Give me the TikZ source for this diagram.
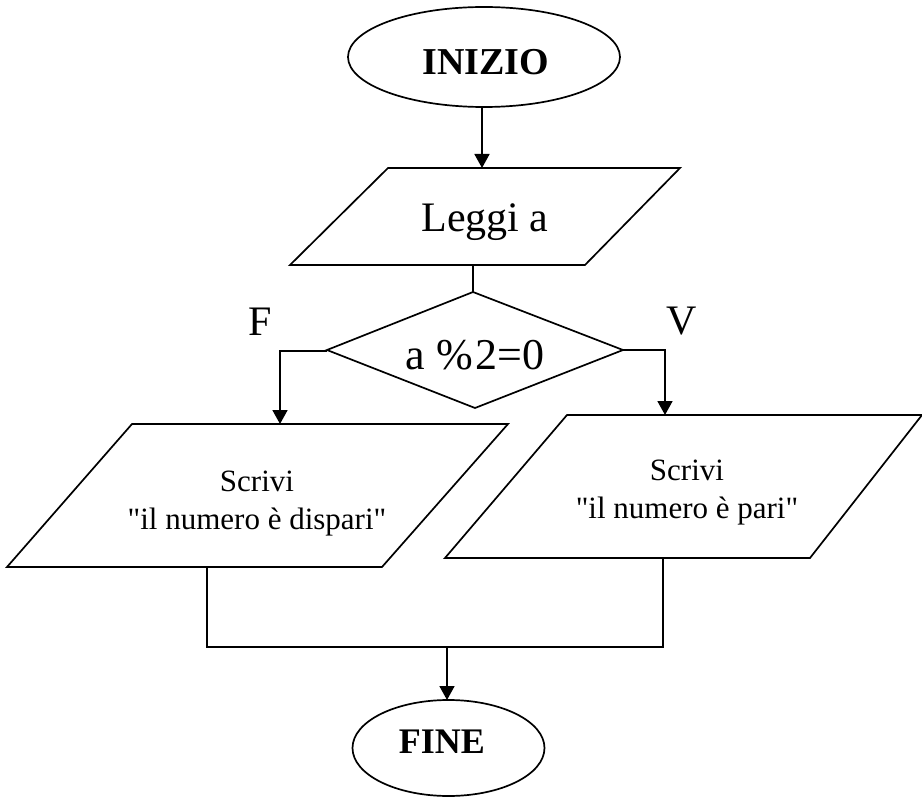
\documentclass[tikz,border=0pt]{standalone}
\usepackage{fontspec}
\setmainfont{Liberation Serif}
\usetikzlibrary{arrows.meta}
\begin{document}
\begin{tikzpicture}[x=1pt,y=-1pt,
  shp/.style={line width=1.7pt, line join=miter},
  conn/.style={line width=1.7pt},
  arr/.style={conn,-{Triangle[length=14pt,width=15pt]}},
  lbl/.style={inner sep=0pt, anchor=center},
  txt/.style={inner sep=0pt, anchor=base, font=\fontsize{31}{38}\selectfont}]
\useasboundingbox (0,0) rectangle (922,797);
% INIZIO
\draw[shp] (484,57) ellipse [x radius=136, y radius=50];
\node[lbl,font=\fontsize{38}{40}\selectfont\bfseries] (inizio) at (486,62) {INIZIO};
\coordinate (inizioB) at (482,108);
% Leggi a
\draw[shp] (388,168) -- (680,168) -- (585,265) -- (290,265) -- cycle;
\node[lbl,font=\fontsize{42}{44}\selectfont] (leggi) at (485,222) {Leggi a};
\coordinate (leggiT) at (482,168);
\coordinate (leggiB) at (473,265);
% decision
\draw[shp] (473,292) -- (623,350) -- (475,408) -- (327,350) -- cycle;
\node[lbl,font=\fontsize{44}{46}\selectfont] (cond) at (475,355) {a \%\kern0.05em2=0};
\coordinate (condT) at (473,292);
\coordinate (condL) at (327,351);
\coordinate (condR) at (623,350);
\coordinate (leftC) at (280,351);
\coordinate (rightC) at (665,350);
\node[lbl,font=\fontsize{42}{44}\selectfont] (F) at (260,322) {F};
\node[lbl,font=\fontsize{42}{44}\selectfont] (V) at (682,321) {V};
% left output
\draw[shp] (132,424) -- (508,424) -- (382,567) -- (7,567) -- cycle;
\node[txt] (dispari1) at (257,491) {Scrivi};
\node[txt] (dispari2) at (257,529) {\textquotedbl il numero è dispari\textquotedbl};
\coordinate (dispT) at (280,424);
\coordinate (dispB) at (207,567);
% right output
\draw[shp] (567,415) -- (922,415) -- (810,558) -- (445,558) -- cycle;
\node[txt] (pari1) at (687,480) {Scrivi};
\node[txt] (pari2) at (687,518) {\textquotedbl il numero è pari\textquotedbl};
\coordinate (pariT) at (665,415);
\coordinate (pariB) at (663,558);
% join
\coordinate (joinL) at (207,647);
\coordinate (joinR) at (663,647);
\coordinate (joinM) at (447,647);
% FINE
\draw[shp] (448.5,748) ellipse [x radius=96, y radius=48];
\node[lbl,font=\fontsize{36}{38}\selectfont\bfseries] (fine) at (442,742) {FINE};
\coordinate (fineT) at (447,700);
% connectors
\draw[arr] (inizioB) -- (leggiT);
\draw[conn] (leggiB) -- (condT);
\draw[arr] (condL) -- (leftC) -- (dispT);
\draw[arr] (condR) -- (rightC) -- (pariT);
\draw[conn] (dispB) -- (joinL) -- (joinR) -- (pariB);
\draw[arr] (joinM) -- (fineT);
\end{tikzpicture}
\end{document}
